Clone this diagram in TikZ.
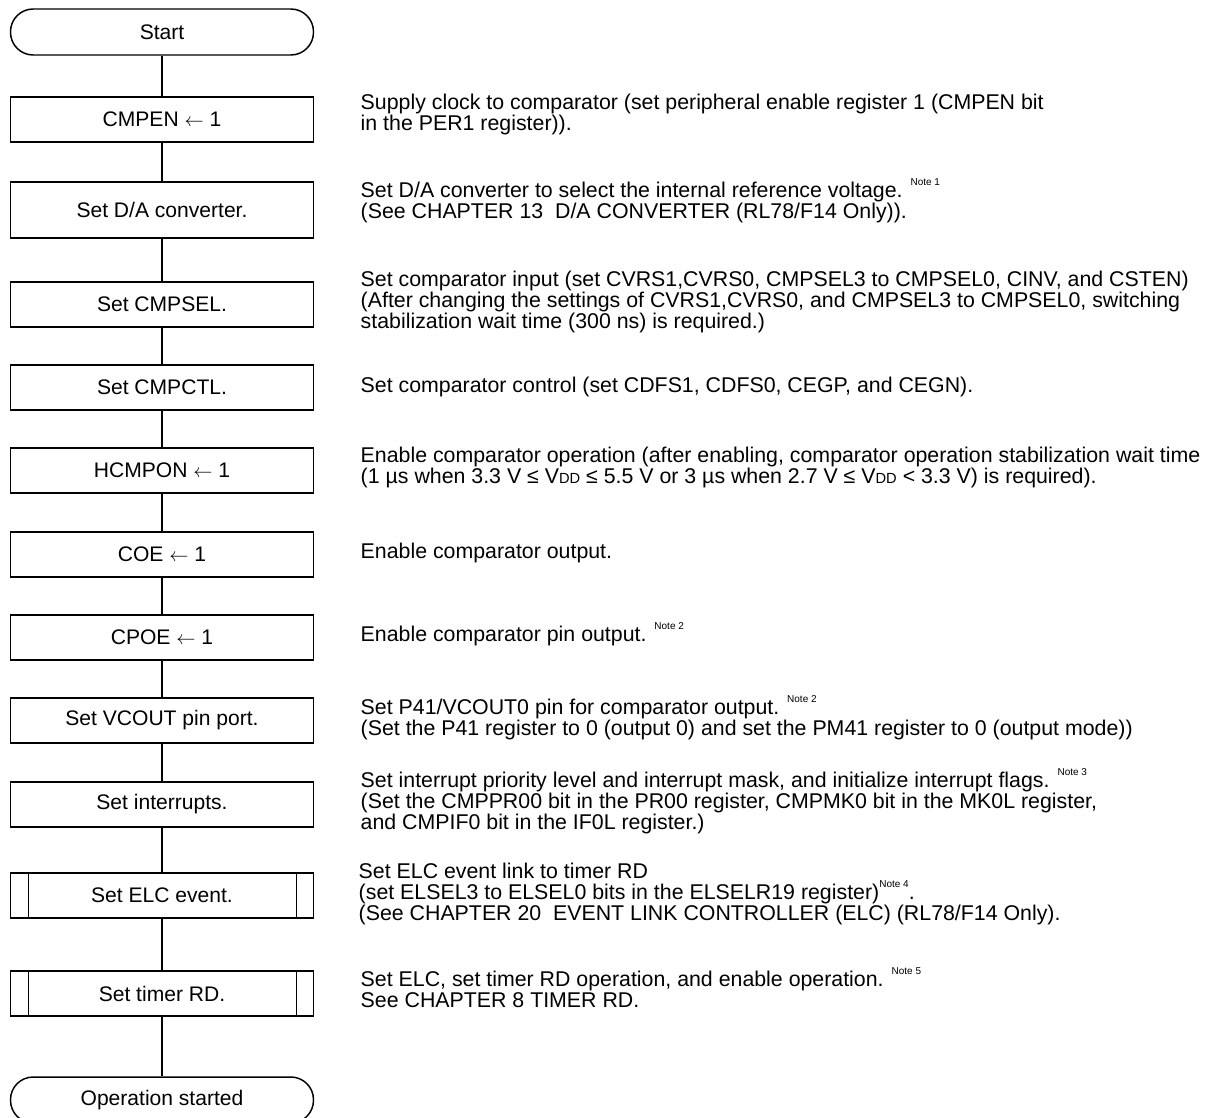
\documentclass[tikz,border=0pt]{standalone}
\usepackage{fontspec}
\setmainfont{Liberation Sans}
\newcommand\nt[1]{\smash{\raisebox{0.55em}{\fontsize{7.5}{8}\selectfont Note #1}}}
\newcommand\vdd{V{\fontsize{11}{11}\selectfont DD}}
\newcommand\getsarrow{$\leftarrow$}
\tikzset{
  every picture/.style={line width=1.1pt},
  procbox/.style={draw, rectangle, minimum width=227.25pt, minimum height=33.75pt, inner sep=0pt, font=\fontsize{15.8}{18}\selectfont},
  termbox/.style={draw, rectangle, rounded corners=17pt, minimum width=227.25pt, minimum height=34.5pt, inner sep=0pt, font=\fontsize{15.8}{18}\selectfont},
  note/.style={anchor=west, align=left, inner sep=0pt, font=\fontsize{16}{15.75}\selectfont},
  link/.style={draw, line width=1.1pt}
}
\begin{document}
\begin{tikzpicture}[x=0.75pt, y=-0.75pt]
\path[use as bounding box, clip] (0,0) rectangle (1212,1117);
\fill[white] (0,0) rectangle (1212,1117);
% flow nodes
\node[termbox] (start) at (162,32) {Start};
\node[procbox] (cmpen) at (162,119.5) {CMPEN \getsarrow{} 1};
\node[procbox, minimum height=42pt] (dac) at (162,210) {Set D/A converter.};
\node[procbox] (sel) at (162,304.5) {Set CMPSEL.};
\node[procbox] (ctl) at (162,387.5) {Set CMPCTL.};
\node[procbox] (hcm) at (162,470.5) {HCMPON \getsarrow{} 1};
\node[procbox] (coe) at (162,554.5) {COE \getsarrow{} 1};
\node[procbox] (cpoe) at (162,637.5) {CPOE \getsarrow{} 1};
\node[procbox] (vco) at (162,720.5) {Set VCOUT pin port.};
\node[procbox] (intr) at (162,804.5) {Set interrupts.};
\node[procbox] (elc) at (162,895.5) {Set ELC event.};
\node[procbox] (trd) at (162,993.5) {Set timer RD.};
\node[termbox] (end) at (162,1100) {Operation started};
% predefined-process side bars
\foreach \n in {elc,trd}{
  \draw ([xshift=14pt]\n.north west) -- ([xshift=14pt]\n.south west);
  \draw ([xshift=-13.5pt]\n.north east) -- ([xshift=-13.5pt]\n.south east);
}
% connectors
\draw[link] (start) -- (cmpen);
\draw[link] (cmpen) -- (dac);
\draw[link] (dac) -- (sel);
\draw[link] (sel) -- (ctl);
\draw[link] (ctl) -- (hcm);
\draw[link] (hcm) -- (coe);
\draw[link] (coe) -- (cpoe);
\draw[link] (cpoe) -- (vco);
\draw[link] (vco) -- (intr);
\draw[link] (intr) -- (elc);
\draw[link] (elc) -- (trd);
\draw[link] (trd) -- (end);
% descriptions
\node[note] (d1) at (360,114) {Supply clock to comparator (set peripheral enable register 1 (CMPEN bit\\in the PER1 register)).};
\node[note] (d2) at (360,202.5) {Set D/A converter to select the internal reference voltage. \nt{1}\\(See CHAPTER 13\ \ D/A CONVERTER (RL78/F14 Only)).};
\node[note] (d3) at (360,302) {Set comparator input (set CVRS1,CVRS0, CMPSEL3 to CMPSEL0, CINV, and CSTEN)\\(After changing the settings of CVRS1,CVRS0, and CMPSEL3 to CMPSEL0, switching\\stabilization wait time (300 ns) is required.)};
\node[note] (d4) at (360,387) {Set comparator control (set CDFS1, CDFS0, CEGP, and CEGN).};
\node[note] (d5) at (360,467.5) {Enable comparator operation (after enabling, comparator operation stabilization wait time\\(1 µs when 3.3 V ≤ \vdd{} ≤ 5.5 V or 3 µs when 2.7 V ≤ \vdd{} < 3.3 V) is required).};
\node[note] (d6) at (360,553) {Enable comparator output.};
\node[note] (d7) at (360,636) {Enable comparator pin output. \nt{2}};
\node[note] (d8) at (360,719.5) {Set P41/VCOUT0 pin for comparator output. \nt{2}\\(Set the P41 register to 0 (output 0) and set the PM41 register to 0 (output mode))};
\node[note] (d9) at (360,803) {Set interrupt priority level and interrupt mask, and initialize interrupt flags. \nt{3}\\(Set the CMPPR00 bit in the PR00 register, CMPMK0 bit in the MK0L register,\\and CMPIF0 bit in the IF0L register.)};
\node[note] (d10) at (358,894) {Set ELC event link to timer RD\\(set ELSEL3 to ELSEL0 bits in the ELSELR19 register)\nt{4}.\\(See CHAPTER 20\ \ EVENT LINK CONTROLLER (ELC) (RL78/F14 Only).};
\node[note] (d11) at (360,989.5) {Set ELC, set timer RD operation, and enable operation. \nt{5}\\See CHAPTER 8 TIMER RD.};
\end{tikzpicture}
\end{document}
